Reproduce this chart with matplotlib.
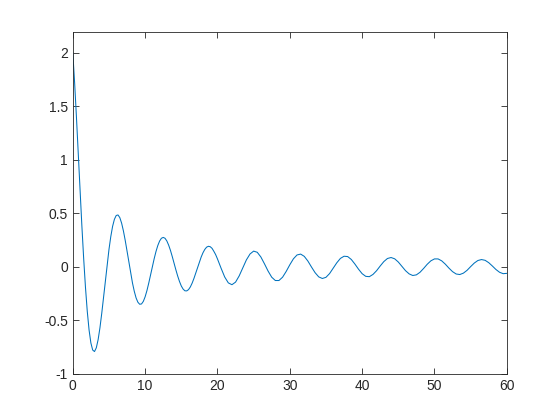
import matplotlib.pyplot as plt

# samples: every 0.25 up to x=20, then every 0.5
x = [i * 0.25 for i in range(81)] + [20 + i * 0.5 for i in range(1, 81)]
y = [2.000, 1.722, 1.404, 1.064, 0.720, 0.388, 0.081, -0.190, -0.416, -0.591,
     -0.712, -0.778, -0.792, -0.757, -0.681, -0.571, -0.436, -0.286, -0.130, 0.022,
     0.162, 0.282, 0.378, 0.444, 0.480, 0.485, 0.460, 0.408, 0.335, 0.246,
     0.146, 0.043, -0.058, -0.151, -0.229, -0.291, -0.331, -0.350, -0.347, -0.323,
     -0.280, -0.222, -0.152, -0.076, 0.001, 0.076, 0.143, 0.199, 0.241, 0.267,
     0.275, 0.267, 0.242, 0.203, 0.154, 0.096, 0.034, -0.028, -0.086, -0.137,
     -0.179, -0.208, -0.224, -0.225, -0.213, -0.188, -0.152, -0.108, -0.058, -0.006,
     0.044, 0.092, 0.132, 0.163, 0.184, 0.192, 0.188, 0.173, 0.145, 0.114,
     0.074,
     -0.013, -0.095, -0.150, -0.167, -0.143, -0.085, -0.009, 0.065, 0.120,
     0.147, 0.136, 0.092, 0.028, -0.040, -0.097, -0.128, -0.128, -0.097, -0.043,
     0.019, 0.075, 0.111, 0.119, 0.098, 0.054, -0.002, -0.055, -0.094, -0.109,
     -0.098, -0.063, -0.013, 0.038, 0.079, 0.099, 0.096, 0.069, 0.026, -0.022,
     -0.064, -0.089, -0.092, -0.071, -0.036, 0.008, 0.049, 0.078, 0.087, 0.075,
     0.045, 0.004, -0.036, -0.066, -0.081, -0.075, -0.051, -0.015, 0.024, 0.056,
     0.074, 0.074, 0.056, 0.025, -0.012, -0.045, -0.067, -0.072, -0.059, -0.033,
     0.002, 0.035, 0.059, 0.068, 0.061, 0.039, 0.008, -0.025, -0.051, -0.064,
     -0.061]

xticks = [0, 10, 20, 30, 40, 50, 60]
yticks = [-1, -0.5, 0, 0.5, 1, 1.5, 2]
ylabels = ['-1', '-0.5', '0', '0.5', '1', '1.5', '2']

plt.rcParams['font.family'] = ['Liberation Sans', 'DejaVu Sans']
fig = plt.figure(figsize=(5.6, 4.2), dpi=100)
ax = fig.add_axes([0.13, 0.11, 0.775, 0.815])
ax.plot(x, y, color='#0072BD', linewidth=0.75)
ax.set_xlim(0, 60)
ax.set_ylim(-1, 2.2)
ax.set_xticks(xticks)
ax.set_xticklabels([str(t) for t in xticks])
ax.set_yticks(yticks)
ax.set_yticklabels(ylabels)
ax.tick_params(direction='in', length=4, width=0.6, colors='#262626',
               labelsize=10, top=True, right=True, labeltop=False, labelright=False)
for s in ax.spines.values():
    s.set_color('#262626')
    s.set_linewidth(0.6)

fig.savefig('out.png', dpi=100)
